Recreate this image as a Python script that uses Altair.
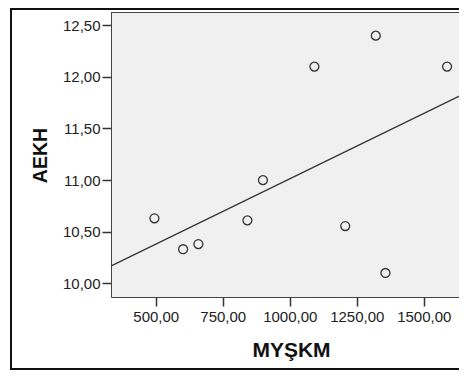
import altair as alt
import pandas as pd

# Data
myskm = [495, 602, 659, 842, 900, 1092, 1207, 1321, 1357, 1587]
aekh = [10.63, 10.33, 10.38, 10.61, 11.00, 12.10, 10.555, 12.40, 10.10, 12.10]

x_ticks = [500, 750, 1000, 1250, 1500]
y_ticks = [10.0, 10.5, 11.0, 11.5, 12.0, 12.5]

df = pd.DataFrame({"MYŞKM": myskm, "AEKH": aekh})

FONT = "Liberation Sans"
label_expr = "replace(format(datum.value, '.2f'), '.', ',')"

x_scale = alt.Scale(domain=[333, 1631.5], nice=False, zero=False)
y_scale = alt.Scale(domain=[9.867, 12.629], nice=False, zero=False)

x_axis = alt.Axis(
    values=x_ticks, labelExpr=label_expr, grid=False,
    tickSize=9, tickWidth=1.5, tickColor="#333", domainColor="#444",
    labelFont=FONT, labelFontSize=15, labelColor="#222", labelPadding=3,
    title="MYŞKM", titleFont=FONT, titleFontSize=21, titleFontWeight="bold",
    titleColor="#111", titleX=180, titleY=59, titleAlign="center",
    titleBaseline="alphabetic", labelFlush=False,
)
y_axis = alt.Axis(
    values=y_ticks, labelExpr=label_expr, grid=False,
    tickSize=9, tickWidth=1.5, tickColor="#333", domainColor="#444",
    labelFont=FONT, labelFontSize=15, labelColor="#222", labelPadding=2,
    title="AEKH", titleFont=FONT, titleFontSize=19.5, titleFontWeight="bold",
    titleColor="#111", titleX=-65, titleY=143, titleAngle=-90,
    titleAlign="center", titleBaseline="alphabetic", labelFlush=False,
)

base = alt.Chart(df)

points = base.mark_point(
    shape="circle", filled=False, size=80, stroke="#333", strokeWidth=1.3, opacity=1
).encode(
    x=alt.X("MYŞKM:Q", scale=x_scale, axis=x_axis),
    y=alt.Y("AEKH:Q", scale=y_scale, axis=y_axis),
)

fit = base.transform_regression(
    "MYŞKM", "AEKH", extent=[300, 1700]
).mark_line(color="#333", strokeWidth=1.2, clip=True).encode(
    x=alt.X("MYŞKM:Q", scale=x_scale),
    y=alt.Y("AEKH:Q", scale=y_scale),
)

one = pd.DataFrame({"a": [0]})

top_border = alt.Chart(one).mark_rule(color="#444", strokeWidth=1).encode(
    x=alt.value(0), x2=alt.value(400), y=alt.value(0.5)
)

frame = alt.Chart(one).mark_rect(
    filled=False, stroke="#111", strokeWidth=2, clip=False
).encode(
    x=alt.value(-100), x2=alt.value(420),
    y=alt.value(-3), y2=alt.value(357),
)

chart = alt.layer(fit, points, top_border, frame).properties(
    width=348, height=285,
    padding={"left": 103, "top": 4, "right": 0, "bottom": 74},
    autosize=alt.AutoSizeParams(type="none"),
    background="white",
).configure_view(
    fill="#f0f0f0", strokeWidth=0
)

chart.save("out.html", embed_options={"renderer": "svg", "actions": False})
